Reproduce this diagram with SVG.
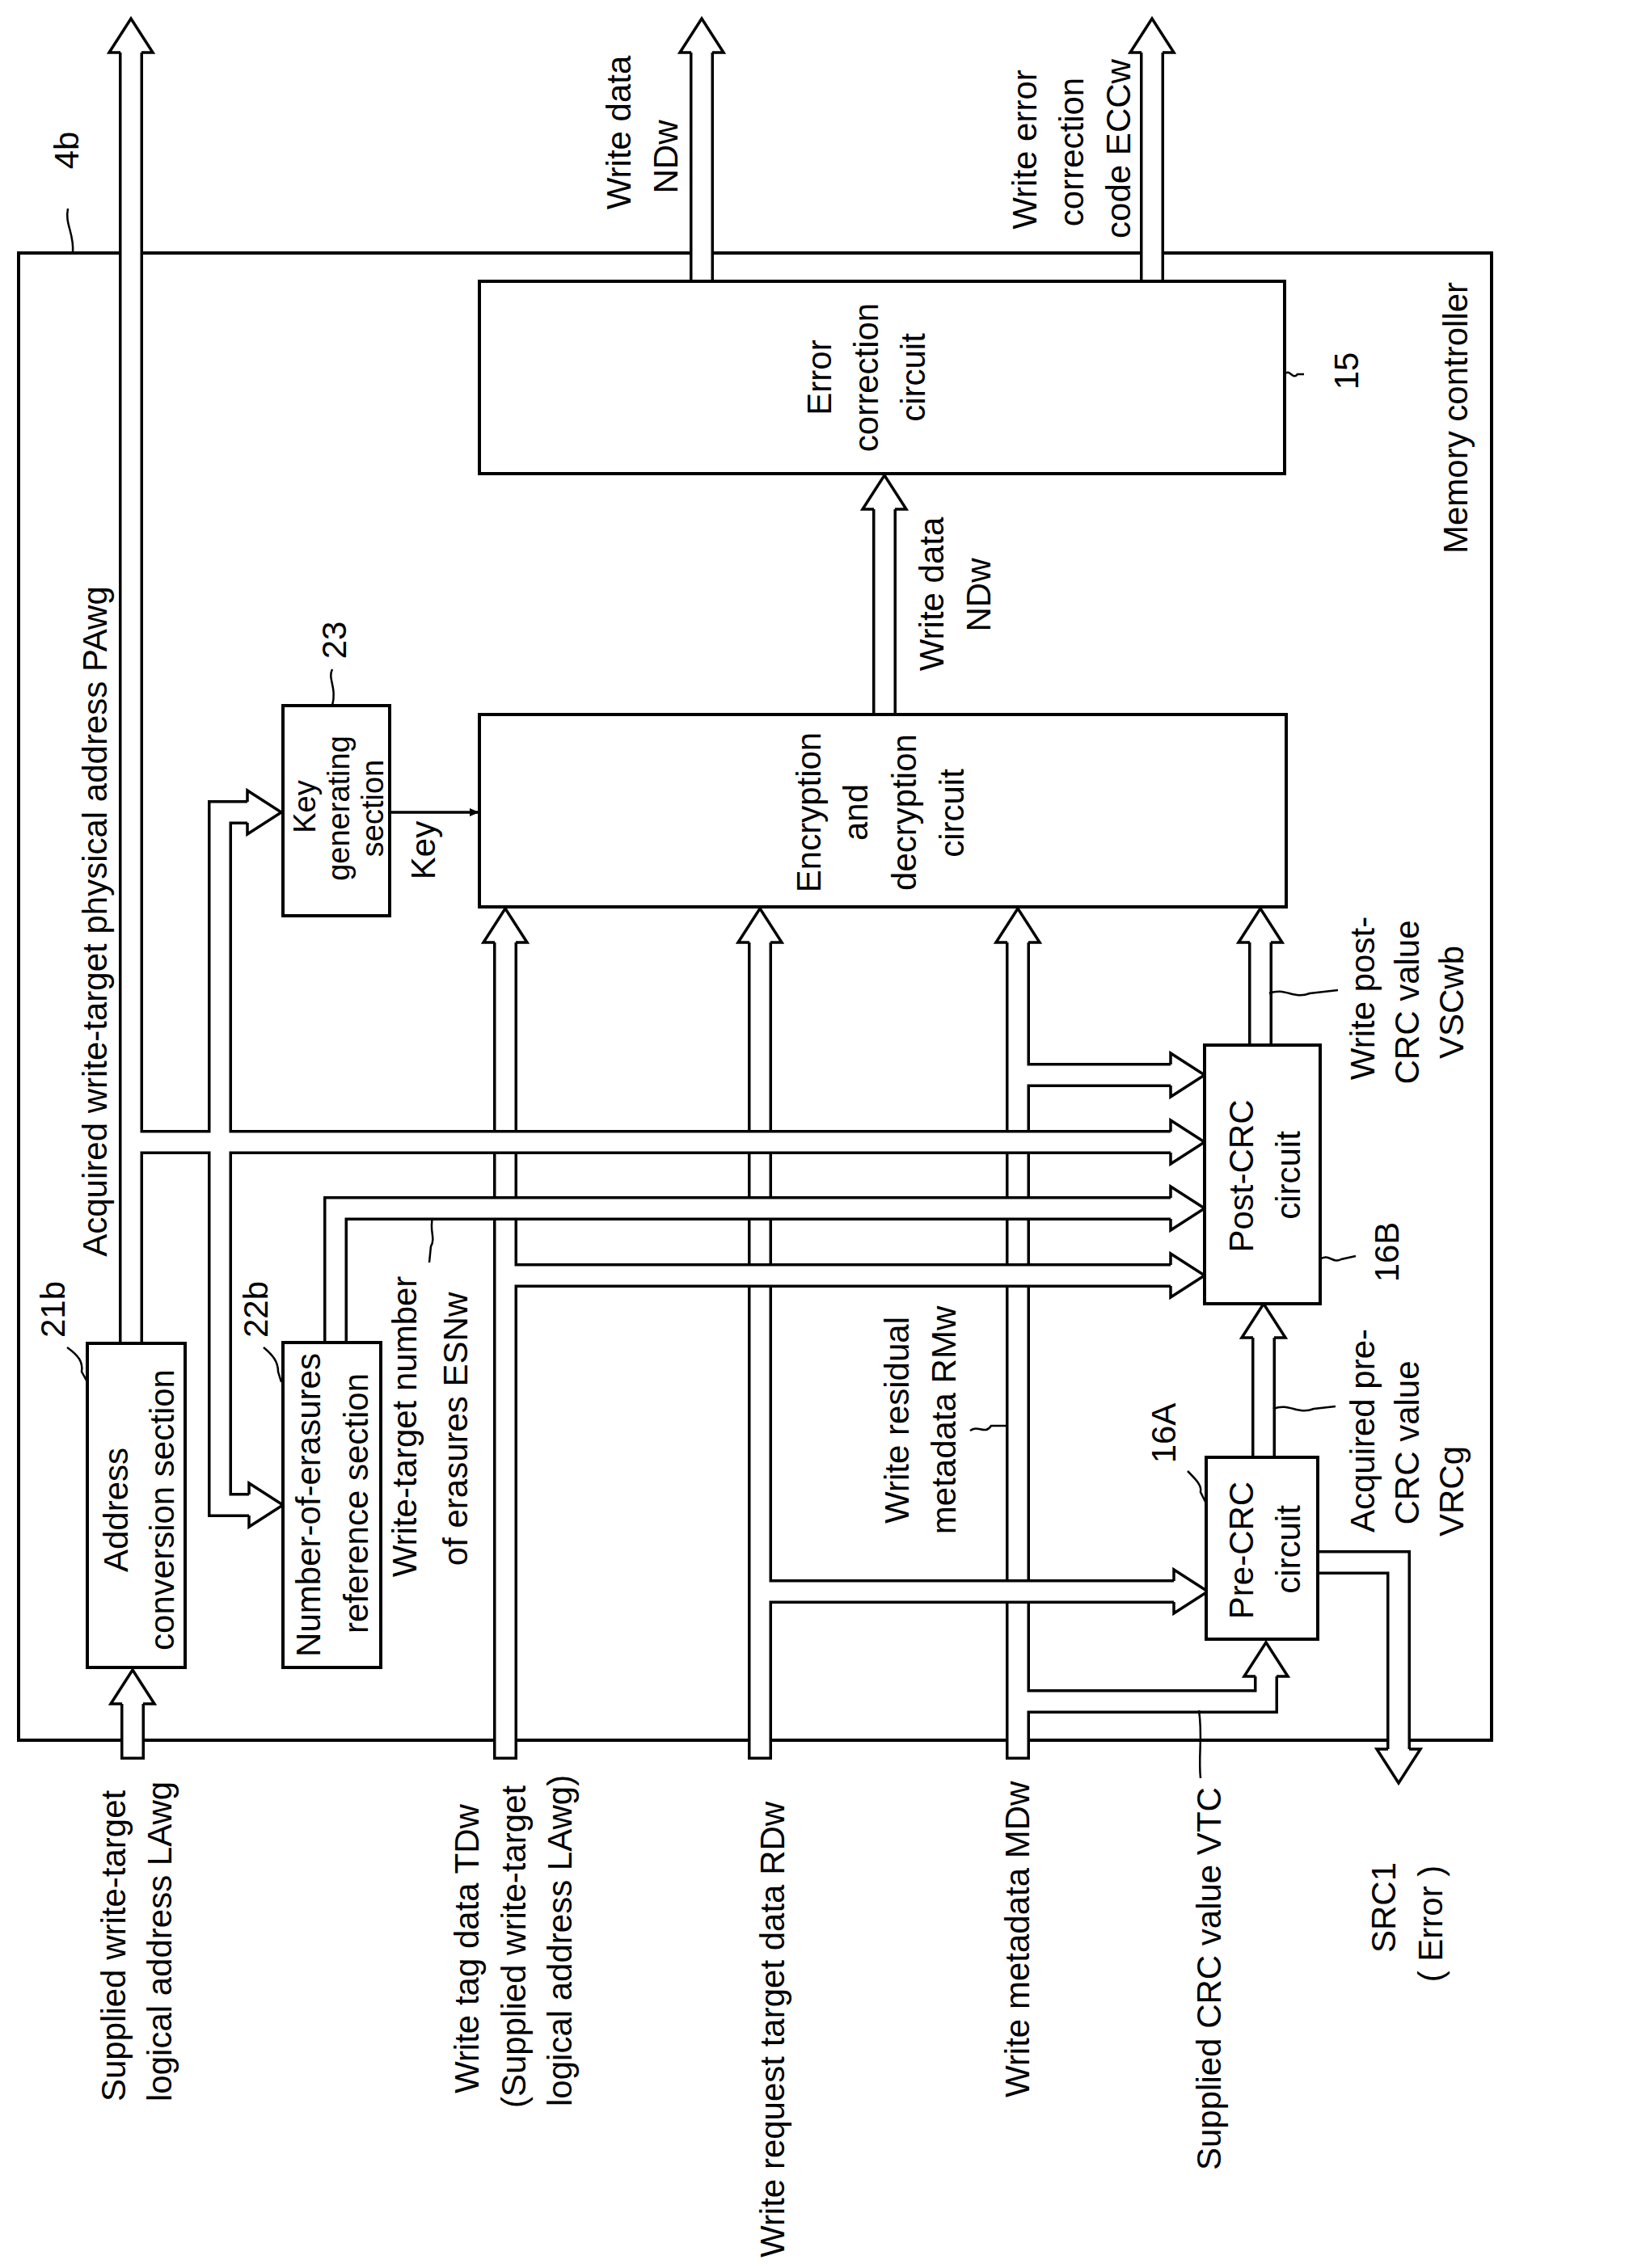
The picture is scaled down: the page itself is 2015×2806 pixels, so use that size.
<svg xmlns="http://www.w3.org/2000/svg" xmlns:xlink="http://www.w3.org/1999/xlink" width="2015" height="2806" viewBox="0 0 2015 2806">
<style>
.bo{stroke:#000;stroke-width:30;fill:none;stroke-linejoin:miter}
.bi{stroke:#fff;stroke-width:23;fill:none;stroke-linejoin:miter}
.head{fill:#fff;stroke:#000;stroke-width:3.5;stroke-linejoin:miter}
.box{fill:#fff;stroke:#000;stroke-width:4}
.ln{fill:none;stroke:#000;stroke-width:2.5}
text{font-family:"Liberation Sans",Arial,sans-serif;font-size:42px;fill:#000}
</style>
<defs>
<path id="ah" class="head" d="M-13,42 L-27,42 L0,0 L27,42 L13,42"/>
<marker id="sa" markerWidth="12" markerHeight="10" refX="11" refY="5" orient="auto" markerUnits="userSpaceOnUse" viewBox="0 0 12 10"><path d="M0,0 L12,5 L0,10 z" fill="#000"/></marker>
</defs>
<rect x="23" y="313" width="1822" height="1840" fill="none" stroke="#000" stroke-width="4"/>
<g id="connectors">
<g id="n6"><path class="bo" d="M1259,2177 V1166 M1259,1330 H1448 M1259,2105 H1566 V2074"/><path class="bi" d="M1259,2173.5 V1166 M1259,1330 H1448 M1259,2105 H1566 V2074"/>
<use xlink:href="#ah" transform="translate(1259,1124)"/><use xlink:href="#ah" transform="translate(1490,1330) rotate(90)"/><use xlink:href="#ah" transform="translate(1566,2032)"/></g>
<g id="n5"><path class="bo" d="M940,2177 V1166 M940,1969 H1452"/><path class="bi" d="M940,2173.5 V1166 M940,1969 H1452"/>
<use xlink:href="#ah" transform="translate(940,1124)"/><use xlink:href="#ah" transform="translate(1494,1969) rotate(90)"/></g>
<g id="n4"><path class="bo" d="M625,2177 V1166 M625,1578 H1448"/><path class="bi" d="M625,2173.5 V1166 M625,1578 H1448"/>
<use xlink:href="#ah" transform="translate(625,1124)"/><use xlink:href="#ah" transform="translate(1490,1578) rotate(90)"/></g>
<g id="n3"><path class="bo" d="M415,1661 V1495 H1448"/><path class="bi" d="M415,1661 V1495 H1448"/>
<use xlink:href="#ah" transform="translate(1490,1495) rotate(90)"/></g>
<g id="n2"><path class="bo" d="M162,1662 V65 M162,1413 H1448 M272,1413 V1005 H306 M272,1413 V1862 H308"/><path class="bi" d="M162,1662 V65 M162,1413 H1448 M272,1413 V1005 H306 M272,1413 V1862 H308"/>
<use xlink:href="#ah" transform="translate(162,23)"/><use xlink:href="#ah" transform="translate(1490,1413) rotate(90)"/><use xlink:href="#ah" transform="translate(348,1005) rotate(90)"/><use xlink:href="#ah" transform="translate(350,1862) rotate(90)"/></g>
<g id="n1"><path class="bo" d="M164,2177 V2108"/><path class="bi" d="M164,2173.5 V2108"/><use xlink:href="#ah" transform="translate(164,2066)"/></g>
<g id="n7"><path class="bo" d="M1563,1803 V1655"/><path class="bi" d="M1563,1803 V1655"/><use xlink:href="#ah" transform="translate(1563,1613)"/></g>
<g id="n8"><path class="bo" d="M1559,1293 V1166"/><path class="bi" d="M1559,1293 V1166"/><use xlink:href="#ah" transform="translate(1559,1124)"/></g>
<g id="n9"><path class="bo" d="M1094,884 V630"/><path class="bi" d="M1094,884 V630"/><use xlink:href="#ah" transform="translate(1094,588)"/></g>
<g id="n10"><path class="bo" d="M868,348 V65"/><path class="bi" d="M868,348 V65"/><use xlink:href="#ah" transform="translate(868,23)"/></g>
<g id="n11"><path class="bo" d="M1425,348 V65"/><path class="bi" d="M1425,348 V65"/><use xlink:href="#ah" transform="translate(1425,23)"/></g>
<g id="n12"><path class="bo" d="M1630,1933 H1730 V2164"/><path class="bi" d="M1630,1933 H1730 V2164"/><use xlink:href="#ah" transform="translate(1730,2206) rotate(180)"/></g>
<line x1="482" y1="1005" x2="592" y2="1005" stroke="#000" stroke-width="3.5" marker-end="url(#sa)"/>
</g>
<g id="error-correction"><rect class="box" x="593" y="348" width="996" height="238"/>
<text transform="translate(1028,467) rotate(-90)" text-anchor="middle">Error</text>
<text transform="translate(1086,467) rotate(-90)" text-anchor="middle">correction</text>
<text transform="translate(1144,467) rotate(-90)" text-anchor="middle">circuit</text></g>
<g id="encryption"><rect class="box" x="593" y="884" width="998" height="238"/>
<text transform="translate(1015,1005) rotate(-90)" text-anchor="middle">Encryption</text>
<text transform="translate(1073,1005) rotate(-90)" text-anchor="middle">and</text>
<text transform="translate(1133,1005) rotate(-90)" text-anchor="middle">decryption</text>
<text transform="translate(1192,1006) rotate(-90)" text-anchor="middle">circuit</text></g>
<g id="key-gen"><rect class="box" x="350" y="873" width="132" height="260"/>
<text transform="translate(390,998) rotate(-90)" text-anchor="middle" style="font-size:38px">Key</text>
<text transform="translate(432,1000) rotate(-90)" text-anchor="middle" style="font-size:38px">generating</text>
<text transform="translate(474,1000) rotate(-90)" text-anchor="middle" style="font-size:38px">section</text></g>
<g id="address-conv"><rect class="box" x="108" y="1662" width="121" height="401"/>
<text transform="translate(158,1868) rotate(-90)" text-anchor="middle">Address</text>
<text transform="translate(215,1868) rotate(-90)" text-anchor="middle">conversion section</text></g>
<g id="erasures"><rect class="box" x="350" y="1661" width="121" height="402"/>
<text transform="translate(396,1862) rotate(-90)" text-anchor="middle">Number-of-erasures</text>
<text transform="translate(455,1860) rotate(-90)" text-anchor="middle">reference section</text></g>
<g id="post-crc"><rect class="box" x="1490" y="1293" width="143" height="320"/>
<text transform="translate(1550,1455) rotate(-90)" text-anchor="middle">Post-CRC</text>
<text transform="translate(1608,1454) rotate(-90)" text-anchor="middle">circuit</text></g>
<g id="pre-crc"><rect class="box" x="1492" y="1803" width="138" height="225"/>
<text transform="translate(1550,1918) rotate(-90)" text-anchor="middle">Pre-CRC</text>
<text transform="translate(1608,1917) rotate(-90)" text-anchor="middle">circuit</text></g>
<g id="labels">
<text transform="translate(97,186) rotate(-90)" text-anchor="middle">4b</text>
<path class="ln" d="M84,258 c-4,20 8,30 6,55"/>
<text transform="translate(780,164) rotate(-90)" text-anchor="middle">Write data</text>
<text transform="translate(838,194) rotate(-90)" text-anchor="middle">NDw</text>
<text transform="translate(1282,185) rotate(-90)" text-anchor="middle">Write error</text>
<text transform="translate(1340,188) rotate(-90)" text-anchor="middle">correction</text>
<text transform="translate(1398,184) rotate(-90)" text-anchor="middle">code ECCw</text>
<text transform="translate(1680,459) rotate(-90)" text-anchor="middle">15</text>
<path class="ln" d="M1589,463 c6,-8 10,8 16,0 l8,0"/>
<text transform="translate(1815,517) rotate(-90)" text-anchor="middle">Memory controller</text>
<text transform="translate(1167,735) rotate(-90)" text-anchor="middle">Write data</text>
<text transform="translate(1225,736) rotate(-90)" text-anchor="middle">NDw</text>
<text transform="translate(428,792) rotate(-90)" text-anchor="middle">23</text>
<path class="ln" d="M411,828 c-6,12 6,22 0,45"/>
<text transform="translate(538,1052) rotate(-90)" text-anchor="middle">Key</text>
<text transform="translate(132,1140) rotate(-90)" text-anchor="middle">Acquired write-target physical address PAwg</text>
<text transform="translate(80,1620) rotate(-90)" text-anchor="middle">21b</text>
<path class="ln" d="M83,1667 c14,10 20,18 18,30 l6,11"/>
<text transform="translate(331,1620) rotate(-90)" text-anchor="middle">22b</text>
<path class="ln" d="M326,1667 c12,10 18,18 18,30 l4,13"/>
<text transform="translate(515,1765) rotate(-90)" text-anchor="middle">Write-target number</text>
<text transform="translate(578,1768) rotate(-90)" text-anchor="middle">of erasures ESNw</text>
<path class="ln" d="M535,1507 c-4,15 4,25 -2,35 l-2,20"/>
<text transform="translate(1124,1757) rotate(-90)" text-anchor="middle">Write residual</text>
<text transform="translate(1182,1757) rotate(-90)" text-anchor="middle">metadata RMw</text>
<path class="ln" d="M1200,1770 c10,-8 18,6 26,-6 l18,0"/>
<text transform="translate(1700,1235) rotate(-90)" text-anchor="middle">Write post-</text>
<text transform="translate(1755,1240) rotate(-90)" text-anchor="middle">CRC value</text>
<text transform="translate(1810,1240) rotate(-90)" text-anchor="middle">VSCwb</text>
<path class="ln" d="M1570,1229 c20,-8 30,8 50,0 l35,-4"/>
<text transform="translate(1730,1549) rotate(-90)" text-anchor="middle">16B</text>
<path class="ln" d="M1633,1558 c10,-8 16,6 26,0 l18,-4"/>
<text transform="translate(1700,1770) rotate(-90)" text-anchor="middle">Acquired pre-</text>
<text transform="translate(1755,1785) rotate(-90)" text-anchor="middle">CRC value</text>
<text transform="translate(1810,1845) rotate(-90)" text-anchor="middle">VRCg</text>
<path class="ln" d="M1575,1743 c20,-8 30,8 50,0 l27,-3"/>
<text transform="translate(1454,1773) rotate(-90)" text-anchor="middle">16A</text>
<path class="ln" d="M1469,1820 c10,10 18,18 16,26 l6,12"/>
<text transform="translate(155,2600) rotate(-90)">Supplied write-target</text>
<text transform="translate(212,2600) rotate(-90)">logical address LAwg</text>
<text transform="translate(592,2590) rotate(-90)">Write tag data TDw</text>
<text transform="translate(650,2608) rotate(-90)">(Supplied write-target</text>
<text transform="translate(707,2606) rotate(-90)">logical address LAwg)</text>
<text transform="translate(970,2793) rotate(-90)">Write request target data RDw</text>
<text transform="translate(1273,2595) rotate(-90)">Write metadata MDw</text>
<text transform="translate(1510,2685) rotate(-90)">Supplied CRC value VTC</text>
<path class="ln" d="M1485,2200 c-3,-30 3,-50 -2,-84"/>
<text transform="translate(1726,2360) rotate(-90)" text-anchor="middle">SRC1</text>
<text transform="translate(1784,2380) rotate(-90)" text-anchor="middle">( Error )</text>
</g>
</svg>
